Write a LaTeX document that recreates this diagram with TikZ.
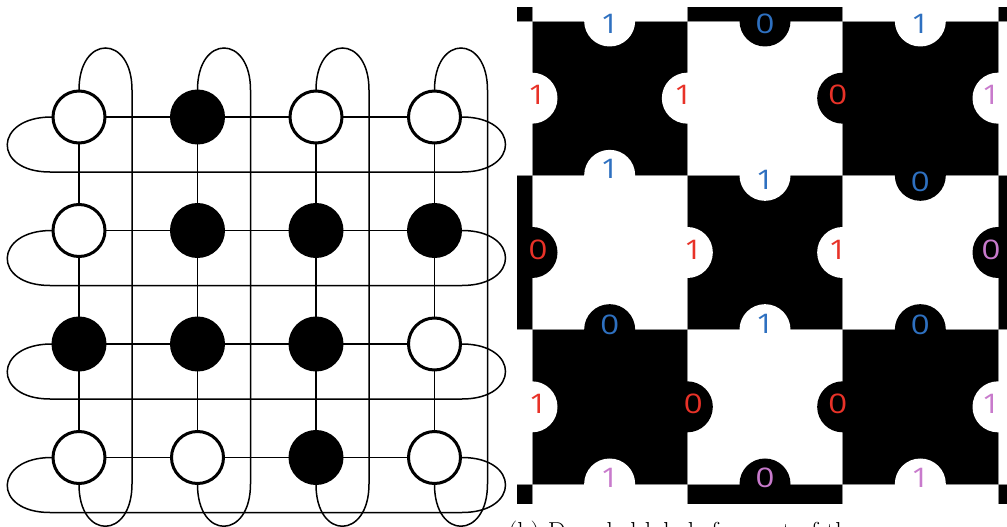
\documentclass[tikz,border=0pt]{standalone}
\usepackage{fontspec}
\usetikzlibrary{calc}
\newfontfamily\digitfont{Open Sans}
\definecolor{eblue}{RGB}{46,112,192}
\definecolor{ered}{RGB}{232,50,40}
\definecolor{epurple}{RGB}{200,122,204}
\definecolor{egray}{RGB}{140,140,140}
\tikzset{
  wire/.style={line width=1.5pt, black},
  wn/.style={circle, draw=black, fill=white, line width=3pt, minimum size=52pt, inner sep=0pt},
  bn/.style={circle, draw=black, fill=black, line width=3pt, minimum size=52pt, inner sep=0pt},
  lab/.style={font=\digitfont\fontsize{27}{27}\selectfont, inner sep=0pt, xscale=1.22},
}
\begin{document}
\begin{tikzpicture}[x=1pt,y=-1pt]
\useasboundingbox (0,0) rectangle (1007,527);
% ---------------- left panel ----------------
% coordinates for return lines
\foreach \i in {0,...,3}{
  \pgfmathsetmacro\X{79+118.5*\i+53}
  \pgfmathsetmacro\Y{117+113.5*\i+55}
  \coordinate (tc-\i) at (\X,90);
  \coordinate (bc-\i) at (\X,484);
  \coordinate (le-\i) at (50,\Y);
  \coordinate (re-\i) at (462,\Y);
}
% node positions (drawn later, on top)
\foreach \r in {0,...,3}{
  \foreach \c in {0,...,3}{
    \pgfmathsetmacro\X{79+118.5*\c}
    \pgfmathsetmacro\Y{117+113.5*\r}
    \coordinate (p-\r-\c) at (\X,\Y);
  }
}
\foreach \r in {0,...,3}{
  \draw[wire] (p-\r-0) -- (p-\r-3);
  \draw[wire] ($(p-\r-3)+(27.5,0)$) .. controls +(58,0) and +(58,0) .. (re-\r) -- (le-\r)
     .. controls +(-58,0) and +(-58,0) .. ($(p-\r-0)+(-27.5,0)$) -- (p-\r-0);
}
\foreach \c in {0,...,3}{
  \draw[wire] (p-0-\c) -- (p-3-\c);
  \draw[wire] ($(p-0-\c)+(0,-27)$) .. controls +(0,-56) and +(0,-56) .. (tc-\c) -- (bc-\c)
     .. controls +(0,56) and +(0,56) .. ($(p-3-\c)+(0,27)$) -- (p-3-\c);
}
\foreach \r/\lst in {0/{w,b,w,w},1/{w,b,b,b},2/{b,b,b,w},3/{w,w,b,w}}{
  \foreach \t [count=\ci from 0] in \lst {
    \node[\t n] (n-\r-\ci) at (p-\r-\ci) {};
  }
}
% ---------------- right panel ----------------
\def\TW{155.33}
\def\TH{154.33}
\begin{scope}
\clip (517,8) rectangle (1007,503);
\fill[white] (517,8) rectangle (1007,503);
\foreach \r in {-1,...,3}{
  \foreach \c in {-1,...,3}{
    \pgfmathtruncatemacro\parity{mod(\r+\c+10,2)}
    \ifnum\parity=0
      \fill[black] (532+\TW*\c,21+\TH*\r) rectangle +(\TW,\TH);
    \fi
  }
}
\foreach \k in {-1,...,4}{
  \draw[egray, line width=0.7pt] (532+\TW*\k,0) -- (532+\TW*\k,527);
  \draw[egray, line width=0.7pt] (500,21+\TH*\k) -- (1010,21+\TH*\k);
}
% vertical-edge tabs: row/edge index/label
\foreach \r/\k/\v in {0/0/1,0/1/1,0/2/0,0/3/1,
                      1/0/0,1/1/1,1/2/1,1/3/0,
                      2/0/1,2/1/0,2/2/0,2/3/1}{
  \ifnum\v=1 \def\tc{white}\else\def\tc{black}\fi
  \fill[\tc] (532+\TW*\k,21+\TH*\r+\TH/2) circle[radius=25.5];
}
% horizontal-edge tabs: edge index/col/label
\foreach \j/\c/\v in {0/0/1,0/1/0,0/2/1,
                      1/0/1,1/1/1,1/2/0,
                      2/0/0,2/1/1,2/2/0,
                      3/0/1,3/1/0,3/2/1}{
  \ifnum\v=1 \def\tc{white}\else\def\tc{black}\fi
  \fill[\tc] (532+\TW*\c+\TW/2,21+\TH*\j) circle[radius=25.5];
}
\end{scope}
% labels on vertical edges: row/edge/label/offset/colour
\foreach \r/\k/\v/\d/\col in {0/0/1/5/ered,0/1/1/-4/ered,0/2/0/-5/ered,0/3/1/-7/epurple,
                      1/0/0/6/ered,1/1/1/6/ered,1/2/1/-5/ered,1/3/0/-7/epurple,
                      2/0/1/6/ered,2/1/0/6/ered,2/2/0/-5/ered,2/3/1/-7/epurple}{
  \node[lab, text=\col] (v-\r-\k) at (532+\TW*\k+\d,21+\TH*\r+\TH/2-3) {\v};
}
% labels on horizontal edges: edge/col/label/offset/colour
\foreach \j/\c/\v/\d/\col in {0/0/1/3/eblue,0/1/0/3/eblue,0/2/1/3/eblue,
                      1/0/1/-6/eblue,1/1/1/5/eblue,1/2/0/7/eblue,
                      2/0/0/-5/eblue,2/1/1/-6/eblue,2/2/0/-5/eblue,
                      3/0/1/-6/epurple,3/1/0/-6/epurple,3/2/1/-6/epurple}{
  \node[lab, text=\col] (h-\j-\c) at (532+\TW*\c+\TW/2,21+\TH*\j+\d) {\v};
}
% caption (cut at the bottom edge)
\node[anchor=base west, inner sep=0pt, font=\fontsize{26}{26}\selectfont] (cap) at (508,540) {(b) Decoded labels for part of the};
\end{tikzpicture}
\end{document}
